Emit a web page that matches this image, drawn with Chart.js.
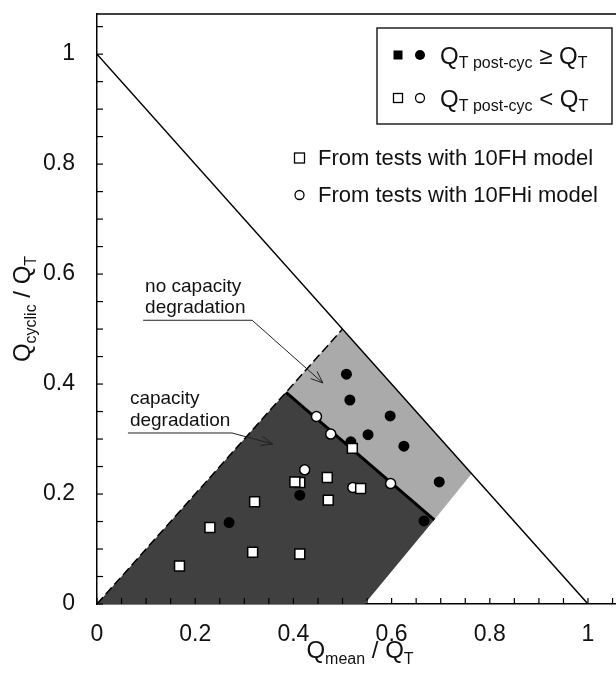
<!DOCTYPE html>
<html>
<head>
<meta charset="utf-8">
<script src="https://cdn.jsdelivr.net/npm/chart.js@4.4.1/dist/chart.umd.min.js"></script>
<style>
  body { margin: 0; background: #fff; }
  #wrap { width: 616px; height: 673px; }
</style>
</head>
<body>
<div id="wrap"><canvas id="chart" width="616" height="673"></canvas></div>
<script>
const FONT = "'Liberation Sans', Arial, sans-serif";

// shaded zones (Q_mean/Q_T, Q_cyclic/Q_T)
const darkZoneX = [0, 0.385, 0.687, 0.545];
const darkZoneY = [0, 0.385, 0.153, 0];
const lightZoneX = [0.385, 0.5, 0.763, 0.687];
const lightZoneY = [0.385, 0.5, 0.237, 0.153];

// reference lines
const limitX = [0, 1];
const limitY = [1, 0];
const dashX = [0, 0.5];
const dashY = [0, 0.5];
const boundX = [0.385, 0.687];
const boundY = [0.385, 0.153];

// Q_T post-cyc >= Q_T (10FHi, filled circles)
const fullCircX = [0.508, 0.515, 0.597, 0.552, 0.625, 0.697, 0.666, 0.517, 0.413, 0.269];
const fullCircY = [0.418, 0.371, 0.342, 0.308, 0.287, 0.222, 0.151, 0.295, 0.198, 0.148];

// Q_T post-cyc < Q_T (10FHi, open circles)
const openCircX = [0.447, 0.476, 0.423, 0.521, 0.598];
const openCircY = [0.341, 0.309, 0.244, 0.212, 0.219];

// Q_T post-cyc < Q_T (10FH, open squares)
const openSqX = [0.520, 0.469, 0.413, 0.403, 0.537, 0.471, 0.321, 0.230, 0.317, 0.413, 0.168];
const openSqY = [0.283, 0.230, 0.221, 0.222, 0.210, 0.189, 0.186, 0.139, 0.094, 0.091, 0.069];

const xTicks = [0, 0.2, 0.4, 0.6, 0.8, 1];
const yTicks = [0, 0.2, 0.4, 0.6, 0.8, 1];
const xMax = 1.057, yMax = 1.073;

const DARK = '#404040';
const LIGHT = '#aaaaaa';

function pts(xs, ys) {
  return xs.map((x, i) => ({ x: x, y: ys[i] }));
}

function richText(ctx, parts, x, y, align) {
  let w = 0;
  parts.forEach(p => {
    ctx.font = p[1] + 'px ' + FONT;
    w += ctx.measureText(p[0]).width;
  });
  let cx = align === 'center' ? x - w / 2 : x;
  ctx.textAlign = 'left';
  ctx.textBaseline = 'alphabetic';
  parts.forEach(p => {
    ctx.font = p[1] + 'px ' + FONT;
    ctx.fillText(p[0], cx, y + p[2]);
    cx += ctx.measureText(p[0]).width;
  });
}

function line(ctx, x1, y1, x2, y2) {
  ctx.beginPath();
  ctx.moveTo(x1, y1);
  ctx.lineTo(x2, y2);
  ctx.stroke();
}

// inward tick marks + top frame
const frameTicks = {
  id: 'frameTicks',
  afterDraw(chart) {
    const { ctx, chartArea: a, scales: { x, y } } = chart;
    ctx.save();
    ctx.strokeStyle = '#000';
    ctx.lineWidth = 1.5;
    line(ctx, a.left, a.top, a.right, a.top);
    ctx.lineWidth = 1.2;
    for (let i = 0; i * 0.05 <= xMax + 1e-9; i++) {
      const px = x.getPixelForValue(i * 0.05);
      line(ctx, px, a.bottom, px, a.bottom - 6);
    }
    for (let i = 0; i * 0.05 <= yMax + 1e-9; i++) {
      const py = y.getPixelForValue(i * 0.05);
      line(ctx, a.left, py, a.left + 6, py);
    }
    ctx.restore();
  }
};

// annotations with arrows
const notes = [
  { text: ['no capacity', 'degradation'], tx: 0.098, ty: [0.567, 0.529], ux: [0.094, 0.316], uy: 0.516, tip: [0.460, 0.402] },
  { text: ['capacity', 'degradation'], tx: 0.067, ty: [0.364, 0.324], ux: [0.063, 0.275], uy: 0.311, tip: [0.358, 0.291] }
];

const annot = {
  id: 'annot',
  afterDraw(chart) {
    const { ctx, scales: { x, y } } = chart;
    ctx.save();
    ctx.fillStyle = '#111';
    ctx.font = '19px ' + FONT;
    ctx.textAlign = 'left';
    ctx.textBaseline = 'alphabetic';
    notes.forEach(n => {
      n.text.forEach((t, i) => ctx.fillText(t, x.getPixelForValue(n.tx), y.getPixelForValue(n.ty[i])));
      const x1 = x.getPixelForValue(n.ux[0]), x2 = x.getPixelForValue(n.ux[1]);
      const uy = y.getPixelForValue(n.uy);
      const tx = x.getPixelForValue(n.tip[0]), ty = y.getPixelForValue(n.tip[1]);
      ctx.strokeStyle = '#222';
      ctx.lineWidth = 1;
      line(ctx, x1, uy, x2, uy);
      line(ctx, x2, uy, tx, ty);
      const ang = Math.atan2(ty - uy, tx - x2);
      const L = 13, s = 0.38;
      line(ctx, tx, ty, tx - L * Math.cos(ang - s), ty - L * Math.sin(ang - s));
      line(ctx, tx, ty, tx - L * Math.cos(ang + s), ty - L * Math.sin(ang + s));
    });
    ctx.restore();
  }
};

// legend box, notes about models, axis titles
const extras = {
  id: 'extras',
  afterDraw(chart) {
    const ctx = chart.ctx;
    ctx.save();
    // legend box
    ctx.fillStyle = '#fff';
    ctx.fillRect(377, 28, 235, 96);
    ctx.strokeStyle = '#000';
    ctx.lineWidth = 1.3;
    ctx.strokeRect(377, 28, 235, 96);

    ctx.fillStyle = '#000';
    ctx.fillRect(393.5, 50.5, 9, 9);
    ctx.beginPath(); ctx.arc(420, 55, 5, 0, Math.PI * 2); ctx.fill();
    ctx.lineWidth = 1.3;
    ctx.fillStyle = '#fff';
    ctx.fillRect(393.5, 93.5, 9, 9); ctx.strokeRect(393.5, 93.5, 9, 9);
    ctx.beginPath(); ctx.arc(420, 98, 4.5, 0, Math.PI * 2); ctx.fill(); ctx.stroke();

    ctx.fillStyle = '#111';
    richText(ctx, [['Q', 24, 0], ['T post-cyc', 16, 4], [' \u2265 Q', 24, 0], ['T', 16, 4]], 440, 63.5, 'left');
    richText(ctx, [['Q', 24, 0], ['T post-cyc', 16, 4], [' < Q', 24, 0], ['T', 16, 4]], 440, 106.5, 'left');

    // model notes
    ctx.fillStyle = '#fff';
    ctx.strokeStyle = '#000';
    ctx.fillRect(294.5, 153, 10, 10); ctx.strokeRect(294.5, 153, 10, 10);
    ctx.beginPath(); ctx.arc(299.5, 195, 4.5, 0, Math.PI * 2); ctx.fill(); ctx.stroke();
    ctx.fillStyle = '#111';
    ctx.font = '22px ' + FONT;
    ctx.textAlign = 'left';
    ctx.textBaseline = 'middle';
    ctx.fillText('From tests with 10FH model', 318, 159);
    ctx.fillText('From tests with 10FHi model', 318, 196);

    // axis titles
    richText(ctx, [['Q', 24, 0], ['mean', 16, 6], [' / Q', 24, 0], ['T', 16, 6]], 360, 658, 'center');
    ctx.translate(30, 309);
    ctx.rotate(-Math.PI / 2);
    richText(ctx, [['Q', 24, 0], ['cyclic', 16, 6], [' / Q', 24, 0], ['T', 16, 6]], 0, 0, 'center');
    ctx.restore();
  }
};

const lineSet = (xs, ys, extra) => Object.assign({
  data: pts(xs, ys), showLine: true, pointRadius: 0, borderColor: '#000', borderWidth: 1.5, fill: false
}, extra);

const noPad = s => { s.paddingTop = 0; s.paddingBottom = 0; s.paddingLeft = 0; s.paddingRight = 0; };

new Chart(document.getElementById('chart'), {
  type: 'scatter',
  data: {
    datasets: [
      lineSet(darkZoneX, darkZoneY, { fill: 'shape', backgroundColor: DARK, borderWidth: 0, borderColor: DARK, order: 10 }),
      lineSet(lightZoneX, lightZoneY, { fill: 'shape', backgroundColor: LIGHT, borderWidth: 0, borderColor: LIGHT, order: 9 }),
      lineSet(limitX, limitY, { order: 6 }),
      lineSet(dashX, dashY, { borderDash: [9, 4], order: 6 }),
      lineSet(boundX, boundY, { borderWidth: 3, order: 6 }),
      {
        data: pts(fullCircX, fullCircY), pointStyle: 'circle', pointRadius: 5.5,
        backgroundColor: '#000', borderColor: '#000', borderWidth: 0, order: 3
      },
      {
        data: pts(openCircX, openCircY), pointStyle: 'circle', pointRadius: 5,
        backgroundColor: '#fff', borderColor: '#000', borderWidth: 1.5, order: 2
      },
      {
        data: pts(openSqX, openSqY), pointStyle: 'rect', pointRadius: 7,
        backgroundColor: '#fff', borderColor: '#000', borderWidth: 1.5, order: 1
      }
    ]
  },
  options: {
    responsive: false,
    animation: false,
    events: [],
    layout: { autoPadding: false, padding: { top: 14, left: 0, right: 0, bottom: 0 } },
    plugins: { legend: { display: false }, tooltip: { enabled: false } },
    scales: {
      x: {
        type: 'linear', min: 0, max: xMax,
        grid: { display: false, drawTicks: false },
        border: { display: true, color: '#000', width: 1.5 },
        afterBuildTicks: s => { s.ticks = xTicks.map(v => ({ value: v })); },
        ticks: {
          autoSkip: false, maxRotation: 0, padding: 17, color: '#111',
          font: { family: FONT, size: 23 },
          callback: v => String(+v.toFixed(1))
        },
        afterFit: s => { s.height = 69; noPad(s); }
      },
      y: {
        type: 'linear', min: 0, max: yMax,
        grid: { display: false, drawTicks: false },
        border: { display: true, color: '#000', width: 1.5 },
        afterBuildTicks: s => { s.ticks = yTicks.map(v => ({ value: v })); },
        ticks: {
          autoSkip: false, padding: 22, color: '#111',
          font: { family: FONT, size: 23 },
          callback: v => String(+v.toFixed(1))
        },
        afterFit: s => { s.width = 97; noPad(s); }
      }
    }
  },
  plugins: [frameTicks, annot, extras]
});
</script>
</body>
</html>
